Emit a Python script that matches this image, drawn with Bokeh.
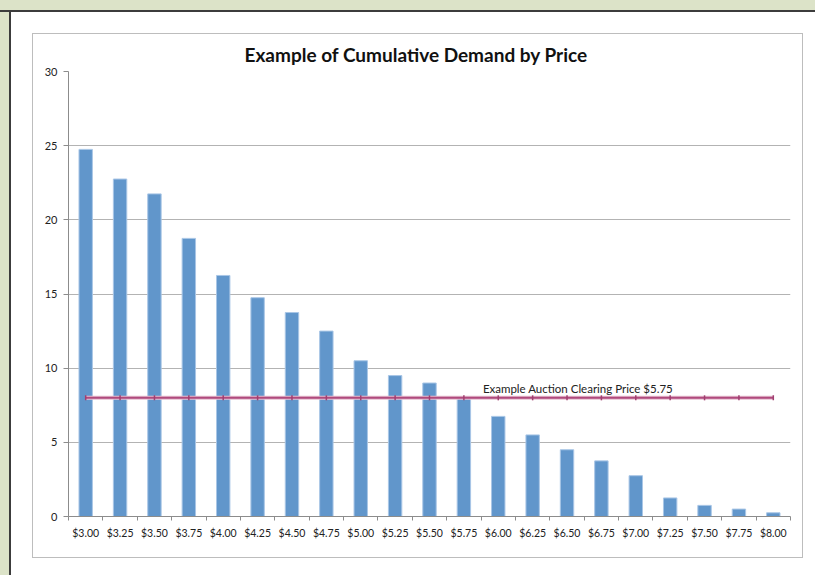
import math
from bokeh.plotting import figure
from bokeh.models import Range1d, FixedTicker
from bokeh.embed import file_html
from bokeh.resources import INLINE
from bokeh.core.properties import value

# ---------------- data ----------------
prices = ["$3.00", "$3.25", "$3.50", "$3.75", "$4.00", "$4.25", "$4.50",
          "$4.75", "$5.00", "$5.25", "$5.50", "$5.75", "$6.00", "$6.25",
          "$6.50", "$6.75", "$7.00", "$7.25", "$7.50", "$7.75", "$8.00"]
demand = [24.75, 22.75, 21.75, 18.75, 16.25, 14.75, 13.75, 12.5, 10.5, 9.5,
          9.0, 8.0, 6.75, 5.5, 4.5, 3.75, 2.75, 1.25, 0.75, 0.5, 0.25]
clearing_level = [8, 8, 8, 8, 8, 8, 8, 8, 8, 8, 8, 8, 8, 8, 8, 8, 8, 8, 8, 8, 8]
clearing_price = "$5.75"
clearing_label = "Example Auction Clearing Price $5.75"
y_ticks = [0, 5, 10, 15, 20, 25, 30]
title_text = "Example of Cumulative Demand by Price"

idx = list(range(len(prices)))
bounds = [i - 0.5 for i in range(len(prices) + 1)]

FONT = "Lato"

p = figure(width=769, height=523, output_backend="svg", toolbar_location=None,
           x_range=Range1d(-0.5, len(prices) - 0.5), y_range=Range1d(0, 30),
           min_border_left=35, min_border_right=12, min_border_top=37,
           min_border_bottom=41)

p.styles = {
    "position": "absolute",
    "left": "33px",
    "top": "34px",
    "z-index": "2",
    "box-shadow": "0 0 0 1px #bdbdbd",
}
p.border_fill_color = "white"
p.background_fill_color = "white"
p.outline_line_color = None

# title
p.title.text = title_text
p.title.align = "left"
p.title.offset = 176
p.title.standoff = 11
p.title.text_font = FONT
p.title.text_font_size = "19px"
p.title.text_font_style = "bold"
p.title.text_color = "#111111"

# grid
p.xgrid.grid_line_color = None
p.ygrid.ticker = FixedTicker(ticks=y_ticks)
p.ygrid.grid_line_color = "#b3b3b3"
p.ygrid.grid_line_width = 1

# y axis
p.yaxis.ticker = FixedTicker(ticks=y_ticks)
p.yaxis.axis_line_color = "#8c8c8c"
p.yaxis.major_tick_line_color = "#8c8c8c"
p.yaxis.major_tick_out = 5
p.yaxis.major_tick_in = 0
p.yaxis.minor_tick_line_color = None
p.yaxis.major_label_standoff = 6
p.yaxis.major_label_text_font = FONT
p.yaxis.major_label_text_font_size = "11px"
p.yaxis.major_label_text_color = "#222222"

# x axis
p.xaxis.ticker = FixedTicker(ticks=idx, minor_ticks=bounds)
p.xaxis.major_label_overrides = {i: prices[i] for i in idx}
p.xaxis.axis_line_color = "#8c8c8c"
p.xaxis.major_tick_line_color = None
p.xaxis.major_tick_out = 0
p.xaxis.major_tick_in = 0
p.xaxis.minor_tick_line_color = "#8c8c8c"
p.xaxis.minor_tick_out = 4
p.xaxis.minor_tick_in = 0
p.xaxis.major_label_standoff = 6
p.xaxis.major_label_text_font = FONT
p.xaxis.major_label_text_font_size = "10.5px"
p.xaxis.major_label_text_color = "#222222"

# bars
p.vbar(x=idx, top=demand, width=0.39, fill_color="#6196cb",
       line_color="#a9c6e6", line_width=1)

# clearing price line
p.line(x=idx, y=clearing_level, line_color="#e6bfd0", line_width=4)
p.line(x=idx, y=clearing_level, line_color="#b04a7d", line_width=2)
p.scatter(x=idx, y=clearing_level, marker="dash", angle=math.pi / 2, size=5,
          line_color="#a03f70", line_width=1.5)

ci = prices.index(clearing_price)
p.text(x=[ci], y=[clearing_level[ci]], text=[clearing_label],
       x_offset=19, y_offset=-9, text_align="left", text_baseline="alphabetic",
       text_font=value(FONT), text_font_size="11.5px", text_color="#222222")

page_css = (
    "<style>"
    "html,body{margin:0;padding:0;overflow:hidden;background:#ffffff;}"
    "body::before{content:'';position:fixed;left:0;top:0;width:9px;bottom:0;"
    "background:#dce3c8;z-index:1;}"
    "body::after{content:'';position:fixed;left:0;top:0;right:0;height:10px;"
    "background:#dce3c8;border-bottom:2px solid #3c3c3c;z-index:1;}"
    "html::before{content:'';position:fixed;left:9px;top:10px;width:2px;bottom:0;"
    "background:#3c3c3c;z-index:1;}"
    "</style>"
)
html = file_html(p, INLINE)
html = html.replace("<head>", "<head>" + page_css, 1)
open("out.html", "w").write(html)
